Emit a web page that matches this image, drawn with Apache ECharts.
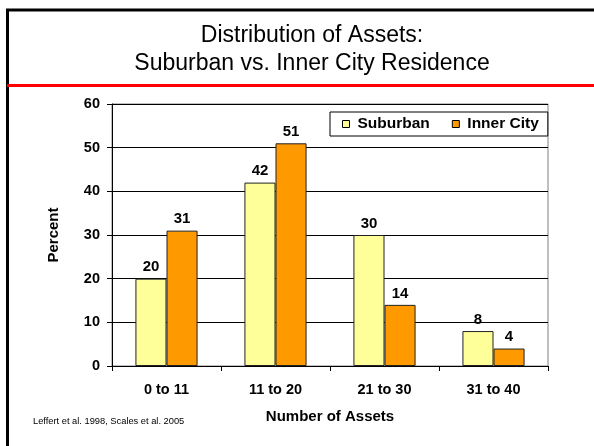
<!DOCTYPE html>
<html>
<head>
<meta charset="utf-8">
<script src="https://cdn.jsdelivr.net/npm/echarts@6/dist/echarts.min.js"></script>
<style>
html,body{margin:0;padding:0;background:#fff;}
#chart{width:594px;height:446px;}
</style>
</head>
<body>
<div id="chart"></div>
<script>
const categories = ['0 to 11', '11 to 20', '21 to 30', '31 to 40'];
const suburban = [20, 42, 30, 8];
const innerCity = [31, 51, 14, 4];
const yTicks = [0, 10, 20, 30, 40, 50, 60];
const titleLines = ['Distribution of Assets:', 'Suburban vs. Inner City Residence'];
const sourceNote = 'Leffert et al. 1998, Scales et al. 2005';

const chart = echarts.init(document.getElementById('chart'));
const font = 'Arial, "Liberation Sans", sans-serif';
const labelStyle = { show: true, position: 'top', distance: 4, color: '#000', fontWeight: 'bold', fontSize: 15, fontFamily: font };

chart.setOption({
  animation: false,
  backgroundColor: '#fff',
  legend: {
    data: ['Suburban', 'Inner City'],
    left: 330, top: 112,
    padding: [4, 9, 4, 12],
    itemGap: 22, itemWidth: 7, itemHeight: 7, icon: 'rect',
    borderColor: '#000', borderWidth: 1, backgroundColor: '#fff',
    textStyle: { fontFamily: font, fontSize: 15.5, fontWeight: 'bold', color: '#000', padding: [0, 0, 0, 3] },
    itemStyle: { borderColor: '#000', borderWidth: 1 }
  },
  grid: { left: 112, right: 46, top: 104, bottom: 80, show: true, borderColor: '#808080', borderWidth: 1 },
  xAxis: {
    type: 'category', data: categories,
    name: 'Number of Assets', nameLocation: 'middle', nameGap: 43,
    nameTextStyle: { fontFamily: font, fontSize: 15, fontWeight: 'bold', color: '#000' },
    axisLine: { lineStyle: { color: '#000', width: 1 } },
    axisTick: { show: true, length: 5, lineStyle: { color: '#000' } },
    axisLabel: { margin: 16, fontFamily: font, fontSize: 14.5, fontWeight: 'bold', color: '#000' }
  },
  yAxis: {
    type: 'value', min: yTicks[0], max: yTicks[yTicks.length - 1], interval: 10,
    name: 'Percent', nameLocation: 'middle', nameGap: 51, nameRotate: 90,
    nameTextStyle: { fontFamily: font, fontSize: 15, fontWeight: 'bold', color: '#000' },
    axisLine: { show: true, lineStyle: { color: '#000', width: 1 } },
    axisTick: { show: true, length: 5, lineStyle: { color: '#000' } },
    axisLabel: { margin: 12, fontFamily: font, fontSize: 14.5, fontWeight: 'bold', color: '#000' },
    splitLine: { show: true, lineStyle: { color: '#000', width: 1 } }
  },
  series: [
    { name: 'Suburban', type: 'bar', data: suburban, barGap: '0%', barCategoryGap: '43%',
      itemStyle: { color: '#FFFF99', borderColor: '#222', borderWidth: 1 }, label: labelStyle },
    { name: 'Inner City', type: 'bar', data: innerCity, barGap: '0%', barCategoryGap: '43%',
      itemStyle: { color: '#FF9900', borderColor: '#222', borderWidth: 1 }, label: labelStyle }
  ],
  graphic: [
    { type: 'line', shape: { x1: 6, y1: 10, x2: 594, y2: 10 }, style: { stroke: '#000', lineWidth: 3 } },
    { type: 'line', shape: { x1: 7.5, y1: 9, x2: 7.5, y2: 446 }, style: { stroke: '#000', lineWidth: 3 } },
    { type: 'line', shape: { x1: 7, y1: 85.5, x2: 594, y2: 85.5 }, style: { stroke: '#FF0000', lineWidth: 3 } },
    { type: 'text', x: 312, y: 36, style: { text: titleLines[0], textAlign: 'center', textVerticalAlign: 'middle', font: '23px ' + font, fill: '#000' } },
    { type: 'text', x: 312, y: 64, style: { text: titleLines[1], textAlign: 'center', textVerticalAlign: 'middle', font: '23px ' + font, fill: '#000' } },
    { type: 'text', x: 33, y: 421, style: { text: sourceNote, textVerticalAlign: 'middle', font: '9.3px ' + font, fill: '#000' } }
  ]
});
</script>
</body>
</html>
